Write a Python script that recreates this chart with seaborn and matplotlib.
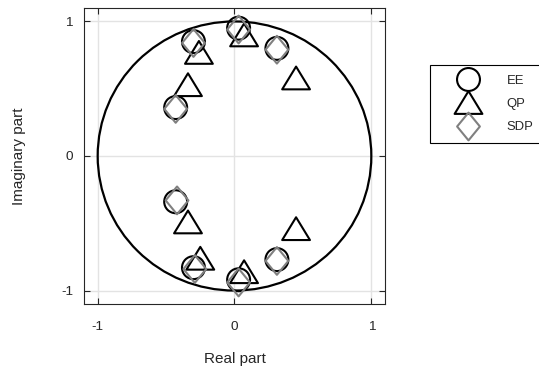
import numpy as np
import pandas as pd
import matplotlib
matplotlib.use("Agg")
import matplotlib.pyplot as plt
from matplotlib.path import Path
from matplotlib.lines import Line2D
import seaborn as sns

# Pole locations (real / imaginary parts) for each estimation method
ee_real = [-0.30, 0.03, 0.31, -0.43, -0.43, -0.30, 0.31, 0.03]
ee_imag = [0.85, 0.95, 0.80, 0.36, -0.34, -0.83, -0.77, -0.92]

qp_real = [-0.26, 0.07, -0.34, 0.45, -0.34, 0.45, -0.25, 0.07]
qp_imag = [0.77, 0.90, 0.53, 0.58, -0.49, -0.54, -0.76, -0.86]

sdp_real = [-0.30, 0.03, 0.31, -0.43, -0.42, -0.29, 0.31, 0.03]
sdp_imag = [0.84, 0.94, 0.79, 0.35, -0.33, -0.84, -0.78, -0.94]

methods = ["EE", "QP", "SDP"]
tick_vals = [-1, 0, 1]
tick_labels = ["-1", "0", "1"]

sns.set_theme(style="white")
plt.rcParams["font.family"] = ["Liberation Sans", "DejaVu Sans"]

df = pd.concat([
    pd.DataFrame({"re": ee_real, "im": ee_imag, "method": "EE"}),
    pd.DataFrame({"re": qp_real, "im": qp_imag, "method": "QP"}),
    pd.DataFrame({"re": sdp_real, "im": sdp_imag, "method": "SDP"}),
])

# marker shapes
tri = Path([(0, 0.82), (-1, -0.82), (1, -0.82), (0, 0.82)],
           [Path.MOVETO, Path.LINETO, Path.LINETO, Path.CLOSEPOLY])
dia = Path([(0, 1), (0.82, 0), (0, -1), (-0.82, 0), (0, 1)],
           [Path.MOVETO, Path.LINETO, Path.LINETO, Path.LINETO, Path.CLOSEPOLY])

style = {
    "EE": dict(marker="o", ms=16.5, color="black"),
    "QP": dict(marker=tri, ms=20, color="black"),
    "SDP": dict(marker=dia, ms=20, color="#808080"),
}

fig = plt.figure(figsize=(5.39, 3.69), dpi=100)
ax = fig.add_axes([84 / 539, 65 / 369, 301 / 539, 296 / 369])

grid_c = "#e3e3e3"
for v in tick_vals:
    ax.axvline(v, color=grid_c, lw=1.0, zorder=0)
    ax.axhline(v, color=grid_c, lw=1.0, zorder=0)

ax.add_patch(plt.Circle((0, 0), 1, fill=False, lw=1.6, color="black", zorder=1))

for m in methods:
    st = style[m]
    sub = df[df["method"] == m]
    sns.scatterplot(data=sub, x="re", y="im", ax=ax, marker=st["marker"],
                    s=st["ms"] ** 2, facecolors="none", edgecolor=st["color"],
                    linewidth=1.5, zorder=3, legend=False)

ax.set_xlim(-1.1, 1.1)
ax.set_ylim(-1.1, 1.1)
ax.set_xticks(tick_vals)
ax.set_xticklabels(tick_labels)
ax.set_yticks(tick_vals)
ax.set_yticklabels(tick_labels)

spine_c = "#262626"
for s in ax.spines.values():
    s.set_visible(True)
    s.set_color(spine_c)
    s.set_linewidth(0.8)
ax.tick_params(direction="in", length=4, width=0.8, color=spine_c,
               top=True, right=True, bottom=True, left=True,
               labelsize=9.7, labelcolor="#262626")
ax.tick_params(axis="x", pad=12)
ax.tick_params(axis="y", pad=8)

ax.set_xlabel("Real part", fontsize=11, color="#262626", labelpad=14)
ax.set_ylabel("Imaginary part", fontsize=11, color="#262626", labelpad=25)

handles = [Line2D([], [], linestyle="none", marker=style[m]["marker"],
                  markersize=style[m]["ms"], markerfacecolor="none",
                  markeredgecolor=style[m]["color"], markeredgewidth=1.5)
           for m in methods]
leg = fig.legend(handles, methods, loc="upper left",
                 bbox_to_anchor=(430 / 539, 1 - 65 / 369),
                 frameon=True, fancybox=False, framealpha=1,
                 edgecolor="black", fontsize=9.4, borderaxespad=0,
                 handlelength=4.35, handletextpad=0.8, labelspacing=0.85,
                 borderpad=0.73)
leg.get_frame().set_linewidth(0.8)

fig.savefig("out.png", dpi=100)
